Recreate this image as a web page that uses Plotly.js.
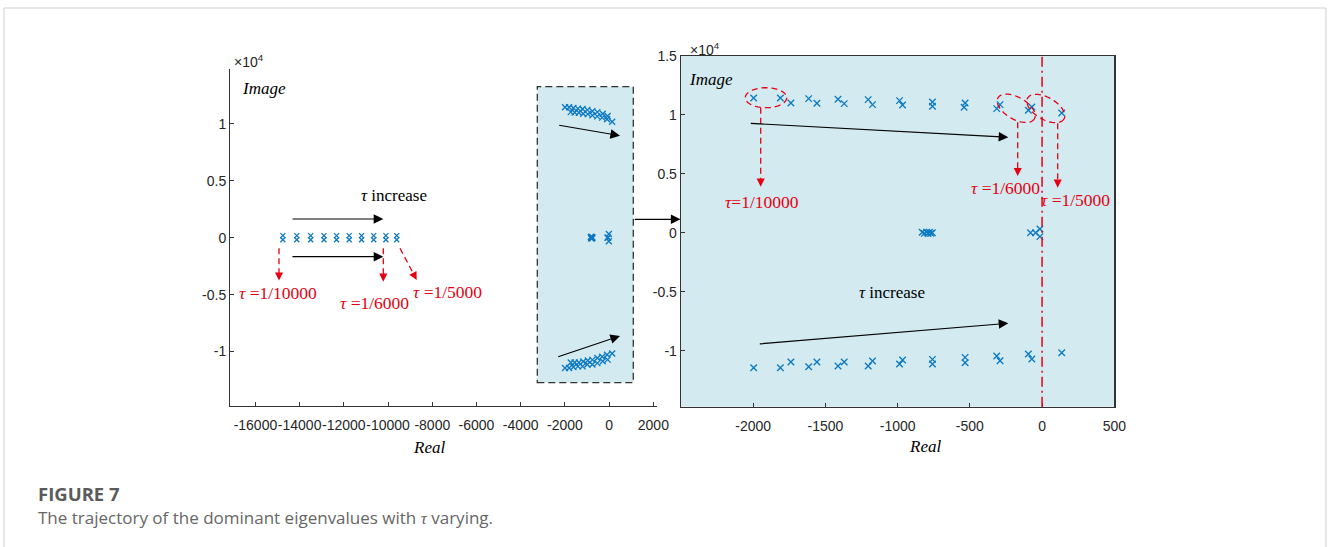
<!DOCTYPE html>
<html>
<head>
<meta charset="utf-8">
<script src="https://cdn.plot.ly/plotly-3.0.1.min.js"></script>
<style>html,body{margin:0;padding:0;background:#fff;}#chart{width:1328px;height:547px;}</style>
</head>
<body>
<div id="chart"></div>
<script>
// ---------- data ----------
// eigenvalues on the real axis (left panel), tau = 1/10000 ... 1/5000
const realAxisRe = [-14760,-14760,-14130,-14130,-13500,-13500,-12900,-12900,-12330,-12330,-11760,-11760,-11200,-11200,-10650,-10650,-10100,-10100,-9610,-9610];
const realAxisIm = [180,-180,180,-180,180,-180,180,-180,180,-180,180,-180,180,-180,180,-180,180,-180,180,-180];
// dominant oscillatory pair, upper branch
const upperRe = [-1997,-1812,-1739,-1616,-1559,-1413,-1370,-1204,-1174,-987,-966,-759,-759,-533,-540,-314,-291,-95,-71,136];
const upperIm = [11441,11441,11017,11384,10989,11328,10960,11299,10876,11215,10847,11102,10734,11017,10650,10537,10876,10395,10678,10169];
// lower branch
const lowerRe = [-1997,-1812,-1739,-1616,-1559,-1413,-1370,-1204,-1174,-987,-966,-759,-759,-533,-533,-314,-291,-95,-71,136];
const lowerIm = [-11441,-11441,-10960,-11356,-10960,-11299,-10960,-11299,-10876,-11130,-10791,-10734,-11130,-10565,-11017,-10452,-10847,-10282,-10706,-10169];
// eigenvalues close to the real axis
const nearRe = [-830,-815,-800,-790,-780,-770,-760,-80,-45,-15,-15];
const nearIm = [50,-50,60,-60,50,-50,0,0,0,320,-320];

const leftXTicks = [-16000,-14000,-12000,-10000,-8000,-6000,-4000,-2000,0,2000];
const leftXText = ['-16000','-14000','-12000','-10000','-8000','-6000','-4000','-2000','0','2000'];
const leftYTicks = [-10000,-5000,0,5000,10000];
const leftYText = ['-1','-0.5','0','0.5','1'];
const rightXTicks = [-2000,-1500,-1000,-500,0,500];
const rightXText = ['-2000','-1500','-1000','-500','0','500'];
const rightYTicks = [-10000,-5000,0,5000,10000,15000];
const rightYText = ['-1','-0.5','0','0.5','1','1.5'];

// ---------- helpers ----------
const W = 1328, H = 547;
const px = x => x / W;
const py = y => 1 - y / H;
const BLUE = '#0b78c2';
const RED = '#e60012';
const AX = '#333333';
const SERIF = 'Liberation Serif, Times New Roman, serif';
const SANS = 'Liberation Sans, Arial, sans-serif';

function markerTrace(x, y, xa, ya, size) {
  return {x: x, y: y, xaxis: xa, yaxis: ya, type: 'scatter', mode: 'markers', hoverinfo: 'skip',
    marker: {symbol: 'x-thin', size: size, color: BLUE, line: {color: BLUE, width: 1.3}}};
}

const traces = [
  markerTrace(realAxisRe, realAxisIm, 'x', 'y', 5),
  markerTrace(upperRe, upperIm, 'x', 'y', 6),
  markerTrace(lowerRe, lowerIm, 'x', 'y', 6),
  markerTrace(nearRe, nearIm, 'x', 'y', 6),
  markerTrace(upperRe, upperIm, 'x2', 'y2', 6.5),
  markerTrace(lowerRe, lowerIm, 'x2', 'y2', 6.5),
  markerTrace(nearRe, nearIm, 'x2', 'y2', 6.5)
];

const tickFont = {family: SANS, size: 14, color: '#262626'};
function axisBase(extra) {
  return Object.assign({showgrid: false, zeroline: false, showline: true, linecolor: AX, linewidth: 1,
    ticks: 'inside', ticklen: 4, tickcolor: AX, tickwidth: 1, tickmode: 'array', tickfont: tickFont,
    tickangle: 0, fixedrange: true}, extra);
}

const layout = {
  width: W, height: H,
  margin: {l: 0, r: 0, t: 0, b: 0},
  paper_bgcolor: '#ffffff', plot_bgcolor: 'rgba(0,0,0,0)',
  showlegend: false,
  xaxis: axisBase({domain: [px(230), px(656.7)], range: [-17150, 2150], anchor: 'y',
    tickvals: leftXTicks, ticktext: leftXText, ticklabelstandoff: 6}),
  yaxis: axisBase({domain: [py(406), py(69.3)], range: [-14780, 14780], anchor: 'x',
    tickvals: leftYTicks, ticktext: leftYText}),
  xaxis2: axisBase({domain: [px(681), px(1114.3)], range: [-2500, 500], anchor: 'y2', mirror: true,
    linewidth: 1.3, tickvals: rightXTicks, ticktext: rightXText, ticklabelstandoff: 6}),
  yaxis2: axisBase({domain: [py(406.7), py(56)], range: [-14750, 15000], anchor: 'x2', mirror: true,
    linewidth: 1.3, tickvals: rightYTicks, ticktext: rightYText}),
  shapes: [],
  annotations: []
};

// figure frame
layout.shapes.push({type: 'rect', xref: 'paper', yref: 'paper', x0: px(4), x1: px(1326), y0: py(560), y1: py(8),
  line: {color: '#cfcfcf', width: 1}, fillcolor: 'rgba(0,0,0,0)', layer: 'below'});
// right panel background
layout.shapes.push({type: 'rect', xref: 'x2 domain', yref: 'y2 domain', x0: 0, x1: 1, y0: 0, y1: 1,
  line: {width: 0}, fillcolor: '#d2eaf0', layer: 'below'});
// inset box in left panel
layout.shapes.push({type: 'rect', xref: 'paper', yref: 'paper', x0: px(537.3), x1: px(633.3), y0: py(382.7), y1: py(86.7),
  line: {color: '#333', width: 1.3, dash: '7px,4px'}, fillcolor: '#d2eaf0', layer: 'below'});
// dash-dot imaginary axis in right panel
layout.shapes.push({type: 'line', xref: 'x2', yref: 'y2 domain', x0: 0, x1: 0, y0: 0, y1: 1,
  line: {color: RED, width: 1.5, dash: '10px,4px,2px,4px'}});

function ellipsePath(cx, cy, a, b, deg) {
  const t = deg * Math.PI / 180, parts = [];
  for (let i = 0; i <= 60; i++) {
    const th = 2 * Math.PI * i / 60;
    const ex = a * Math.cos(th), ey = b * Math.sin(th);
    const X = cx + ex * Math.cos(t) - ey * Math.sin(t);
    const Y = cy + ex * Math.sin(t) + ey * Math.cos(t);
    parts.push((i ? 'L' : 'M') + px(X).toFixed(5) + ',' + py(Y).toFixed(5));
  }
  return parts.join(' ') + ' Z';
}
[[766, 97.7, 20.7, 10, 0], [1016.2, 108.3, 21, 11, 30], [1045.8, 108.5, 21, 11, 30]].forEach(e => {
  layout.shapes.push({type: 'path', xref: 'paper', yref: 'paper', path: ellipsePath(e[0], e[1], e[2], e[3], e[4]),
    line: {color: RED, width: 1.3, dash: '6px,4px'}});
});

// black solid arrows (tail -> tip, in page pixels)
function blackArrow(x0, y0, x1, y1) {
  layout.annotations.push({xref: 'paper', yref: 'paper', x: px(x1), y: py(y1), ax: x0 - x1, ay: y0 - y1,
    text: '', showarrow: true, arrowhead: 2, arrowsize: 1.6, arrowwidth: 1.2, arrowcolor: '#000',
    standoff: 0, startstandoff: 0});
}
// red dashed arrows
function redArrow(x0, y0, x1, y1) {
  const dx = x1 - x0, dy = y1 - y0, L = Math.hypot(dx, dy), ux = dx / L, uy = dy / L;
  const head = 7;
  layout.shapes.push({type: 'line', xref: 'paper', yref: 'paper', x0: px(x0), y0: py(y0),
    x1: px(x1 - ux * head), y1: py(y1 - uy * head), line: {color: RED, width: 1.3, dash: '6px,4px'}});
  layout.annotations.push({xref: 'paper', yref: 'paper', x: px(x1), y: py(y1), ax: -ux * 9, ay: -uy * 9,
    text: '', showarrow: true, arrowhead: 2, arrowsize: 1.35, arrowwidth: 1.2, arrowcolor: RED,
    standoff: 0, startstandoff: 0});
}
function label(text, x, y, opts) {
  layout.annotations.push(Object.assign({xref: 'paper', yref: 'paper', x: px(x), y: py(y), text: text,
    showarrow: false, xanchor: 'center', yanchor: 'middle', font: {family: SERIF, size: 17, color: '#000'}}, opts || {}));
}

// left panel
blackArrow(291, 219, 383.3, 219);
blackArrow(291, 256.7, 383.3, 256.7);
redArrow(279, 248.3, 279, 280.5);
redArrow(383.3, 248.3, 383.3, 281.7);
redArrow(400, 248.3, 416.7, 280);
label('<i>τ</i> increase', 394, 195.7, {font: {family: SERIF, size: 17, color: '#000'}});
label('<i>τ</i> =1/10000', 277.8, 292.7, {font: {family: SERIF, size: 17.5, color: RED}});
label('<i>τ</i> =1/6000', 374.7, 302.7, {font: {family: SERIF, size: 17.5, color: RED}});
label('<i>τ</i> =1/5000', 447.5, 291.7, {font: {family: SERIF, size: 17.5, color: RED}});
label('<i>Image</i>', 240, 88.3, {xanchor: 'left'});
label('<i>Real</i>', 429.3, 447.3);
label('×10<sup>4</sup>', 232, 60.5, {xanchor: 'left', font: {family: SANS, size: 14, color: '#262626'}});
// inset arrows + connector
blackArrow(557.7, 125, 620, 135.7);
blackArrow(556.7, 357.3, 620, 336);
blackArrow(633.3, 219.3, 680.5, 219.3);

// right panel
blackArrow(749.3, 123.3, 1008.3, 137.3);
blackArrow(758.3, 344, 1008.3, 323.3);
redArrow(760.7, 107.7, 760.7, 186.7);
redArrow(1017.7, 122.3, 1017.7, 176);
redArrow(1057.7, 123.3, 1057.7, 187.7);
label('<i>τ</i>=1/10000', 762.3, 201.7, {font: {family: SERIF, size: 17.5, color: RED}});
label('<i>τ</i> =1/6000', 1005.8, 187.7, {font: {family: SERIF, size: 17.5, color: RED}});
label('<i>τ</i> =1/5000', 1075, 200.3, {font: {family: SERIF, size: 17.5, color: RED}});
label('<i>τ</i> increase', 892.3, 292.7, {font: {family: SERIF, size: 17, color: '#000'}});
label('<i>Image</i>', 686.7, 79.3, {xanchor: 'left'});
label('<i>Real</i>', 925, 446);
label('×10<sup>4</sup>', 687.5, 49.5, {xanchor: 'left', font: {family: SANS, size: 14, color: '#262626'}});

// caption
label('<b>FIGURE 7</b>', 36, 493.3, {xanchor: 'left', font: {family: 'Open Sans, sans-serif', size: 18.5, color: '#5b5b5b'}});
label('The trajectory of the dominant eigenvalues with <span style="font-family:Liberation Serif"><i>τ</i></span> varying.', 36, 517.3,
  {xanchor: 'left', font: {family: 'Open Sans, sans-serif', size: 17, color: '#666666'}});

Plotly.newPlot('chart', traces, layout, {staticPlot: true, displayModeBar: false});
</script>
</body>
</html>
